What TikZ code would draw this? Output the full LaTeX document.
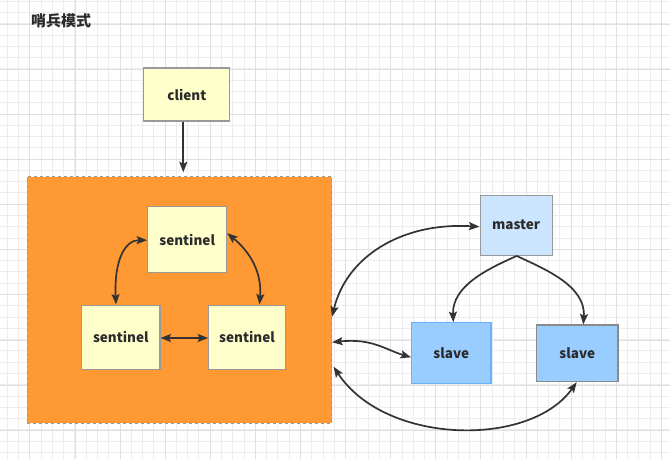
\documentclass[tikz,border=0pt]{standalone}
\usepackage{fontspec}
\newfontfamily\cjk{Noto Sans CJK SC}
\usetikzlibrary{arrows.meta}
\definecolor{txt}{HTML}{2B2B2B}
\definecolor{orangefill}{HTML}{FF9933}
\definecolor{yel}{HTML}{FFFFCC}
\definecolor{lblue}{HTML}{CCE5FF}
\definecolor{mblue}{HTML}{99CCFF}
\definecolor{bluebd}{HTML}{66B2FF}
\definecolor{greybd}{HTML}{999999}
\definecolor{arr}{HTML}{333333}
\tikzset{
  boxbase/.style={draw=greybd, line width=1.1pt, inner sep=0pt, font=\cjk\bfseries\fontsize{13.5}{15}\selectfont, text=txt},
  yelbox/.style={boxbase, fill=yel},
  masterbox/.style={boxbase, fill=lblue},
  slavebox/.style={boxbase, fill=mblue},
  conn/.style={draw=arr, line width=1.7pt, {Stealth[length=10.5pt,width=8pt,inset=2pt]}-{Stealth[length=10.5pt,width=8pt,inset=2pt]}},
  oneway/.style={draw=arr, line width=1.7pt, -{Stealth[length=10.5pt,width=8pt,inset=2pt]}},
  gridminor/.style={draw=black!7, line width=0.6pt},
  gridmajor/.style={draw=black!12, line width=0.6pt}
}
\begin{document}
\begin{tikzpicture}[x=1pt,y=-1pt]
\useasboundingbox (0,0) rectangle (670,459);
\fill[white] (0,0) rectangle (670,459);
% grid
\foreach \i in {0,...,59} \draw[gridminor] (7+\i*11.28,0) -- ++(0,459);
\foreach \j in {0,...,41} \draw[gridminor] (0,1+\j*11.28) -- ++(670,0);
\foreach \i in {0,...,14} \draw[gridmajor] (29.7+\i*45.1,0) -- ++(0,459);
\foreach \j in {0,...,10} \draw[gridmajor] (0,24.1+\j*45.1) -- ++(670,0);
% title
\node[font=\cjk\bfseries\fontsize{15}{17}\selectfont, text=txt] (title) at (61,21) {哨兵模式};
% orange group
\node[draw=greybd, dashed, line width=0.8pt, fill=orangefill, minimum width=304.4pt, minimum height=246.6pt, inner sep=0pt] (grp) at (179.5,300) {};
% nodes
\node[yelbox, minimum width=86pt, minimum height=53pt] (client) at (186.8,94.5) {client};
\node[yelbox, minimum width=79pt, minimum height=66pt] (st) at (187.2,239.7) {sentinel};
\node[yelbox, minimum width=78.3pt, minimum height=64.3pt] (sl) at (120.8,337.2) {sentinel};
\node[yelbox, minimum width=76.6pt, minimum height=64.3pt] (sr) at (247,337.2) {sentinel};
\node[masterbox, minimum width=72.3pt, minimum height=60.3pt] (master) at (516.2,225.2) {master};
\node[slavebox, draw=bluebd, minimum width=79.3pt, minimum height=61pt] (slave1) at (451.3,353.2) {slave};
\node[slavebox, draw=greybd!90!black, minimum width=81.3pt, minimum height=56.7pt] (slave2) at (577.3,353.3) {slave};
% connectors
\draw[oneway] ([xshift=-3.5pt]client.south) -- ([xshift=-3.5pt,yshift=4pt]client.south |- grp.north);
\draw[conn] ([yshift=-0.5pt]st.west) .. controls (126,240) and (114,258) .. (sl.north -| 116,0);
\draw[conn] ([yshift=6.5pt]st.east) .. controls (250,252) and (262,272) .. (sr.north -| 259.5,0);
\draw[conn] (sl.east |- 0,338) -- (sr.west |- 0,338);
\draw[conn] (grp.east |- 0,316.7) .. controls (346,258) and (400,222) .. (master.west |- 0,226.7);
\draw[conn] (grp.east |- 0,342.3) .. controls (372,338) and (386,350) .. (slave1.west |- 0,357.3);
\draw[conn] ([xshift=1.5pt]grp.east |- 0,366.7) .. controls (385,445) and (530,448) .. (slave2.south -| 576.7,0);
\draw[oneway] ([xshift=0.5pt]master.south) .. controls (490,268) and (452,285) .. (slave1.north -| 453.3,0);
\draw[oneway] ([xshift=0.5pt]master.south) .. controls (542,268) and (586,285) .. (slave2.north -| 583.3,0);
\end{tikzpicture}
\end{document}
